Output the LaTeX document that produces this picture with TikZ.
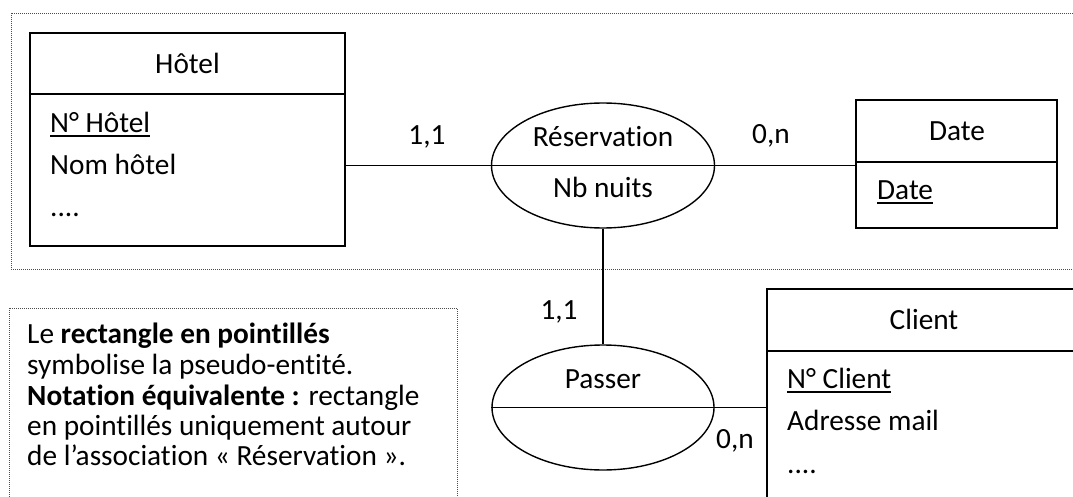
\documentclass[tikz,border=0pt]{standalone}
\usepackage{fontspec}
\setmainfont{Carlito}[Ligatures=NoCommon]
\usetikzlibrary{shapes.geometric,calc}
\tikzset{
  entbox/.style={draw,line width=2pt,rectangle,inner sep=0pt},
  assoc/.style={draw,line width=1.4pt,ellipse,inner sep=0pt},
  conn/.style={line width=1.7pt},
  divl/.style={line width=2pt},
  dotbox/.style={draw=black!70,line width=0.9pt,dash pattern=on 1pt off 1pt},
  txt/.style={inner sep=0pt,font=\fontsize{29.3}{30.5}\selectfont},
  attr/.style={txt,anchor=base west},
  card/.style={txt,anchor=base},
  uline/.style={line width=2pt}
}
\begin{document}
\begin{tikzpicture}[x=1pt,y=-1pt]
\useasboundingbox (0,0) rectangle (1073,497);
\clip (0,0) rectangle (1073,497);
% dotted pseudo-entity rectangle and note box
\draw[dotbox] (11,13) rectangle (1090,269);
\draw[dotbox] (9,308) rectangle (457,520);
% Hotel
\node[entbox,minimum width=315pt,minimum height=213pt] (hotel) at (187.5,139.5) {};
\draw[divl] (30,94) -- (345,94);
\node[txt] (hotelt) at (187.5,63) {Hôtel};
\node[attr] (hotela) at (50,133) {N° Hôtel};
\draw[uline] ($(hotela.base west)+(0,3)$) -- ($(hotela.base east)+(0,3)$);
\node[attr] (hotelb) at (50,175) {Nom hôtel};
\node[attr] (hotelc) at (50,216) {....};
% Date
\node[entbox,minimum width=201pt,minimum height=128pt] (date) at (956.5,164) {};
\draw[divl] (856,162) -- (1057,162);
\node[txt] (datet) at (957,131) {Date};
\node[attr] (datea) at (877,200) {Date};
\draw[uline] ($(datea.base west)+(0,3.5)$) -- ($(datea.base east)+(0,3.5)$);
% Client
\node[entbox,minimum width=314pt,minimum height=260pt] (client) at (924,419) {};
\draw[divl] (767,351) -- (1081,351);
\node[txt] (clientt) at (924,319) {Client};
\node[attr] (clienta) at (787,388) {N° Client};
\draw[uline] ($(clienta.base west)+(0,3.5)$) -- ($(clienta.base east)+(0,3.5)$);
\node[attr] (clientb) at (787,430) {Adresse mail};
\node[attr] (clientc) at (787,473) {....};
% Reservation
\node[assoc,minimum width=223pt,minimum height=125pt] (res) at (603,165.5) {};
\draw[conn] (res.west) -- (res.east);
\node[card] (rest) at (603,147) {Réservation};
\node[card] (resa) at (603,198) {Nb nuits};
% Passer
\node[assoc,minimum width=222pt,minimum height=125pt] (pas) at (603,407.5) {};
\draw[conn] (pas.west) -- (pas.east);
\node[card] (past) at (603,388) {Passer};
% connectors
\draw[conn] (res.west -| hotel.east) -- (res.west);
\draw[conn] (res.east) -- (res.east -| date.west);
\draw[conn] (res.south) -- (pas.north);
\draw[conn] (pas.east) -- (pas.east -| client.west);
% cardinalities
\node[card] (c1) at (427,145) {1,1};
\node[card] (c2) at (771,144) {0,n};
\node[card] (c3) at (559,319) {1,1};
\node[card] (c4) at (735,448) {0,n};
% note
\node[attr] (n1) at (27,343) {Le \textbf{rectangle en pointillés}};
\node[attr] (n2) at (27,374) {symbolise la pseudo-entité.};
\node[attr] (n3) at (27,405) {\textbf{Notation équivalente :} rectangle};
\node[attr] (n4) at (27,435) {en pointillés uniquement autour};
\node[attr] (n5) at (27,465) {de l’association « Réservation ».};
\end{tikzpicture}
\end{document}
